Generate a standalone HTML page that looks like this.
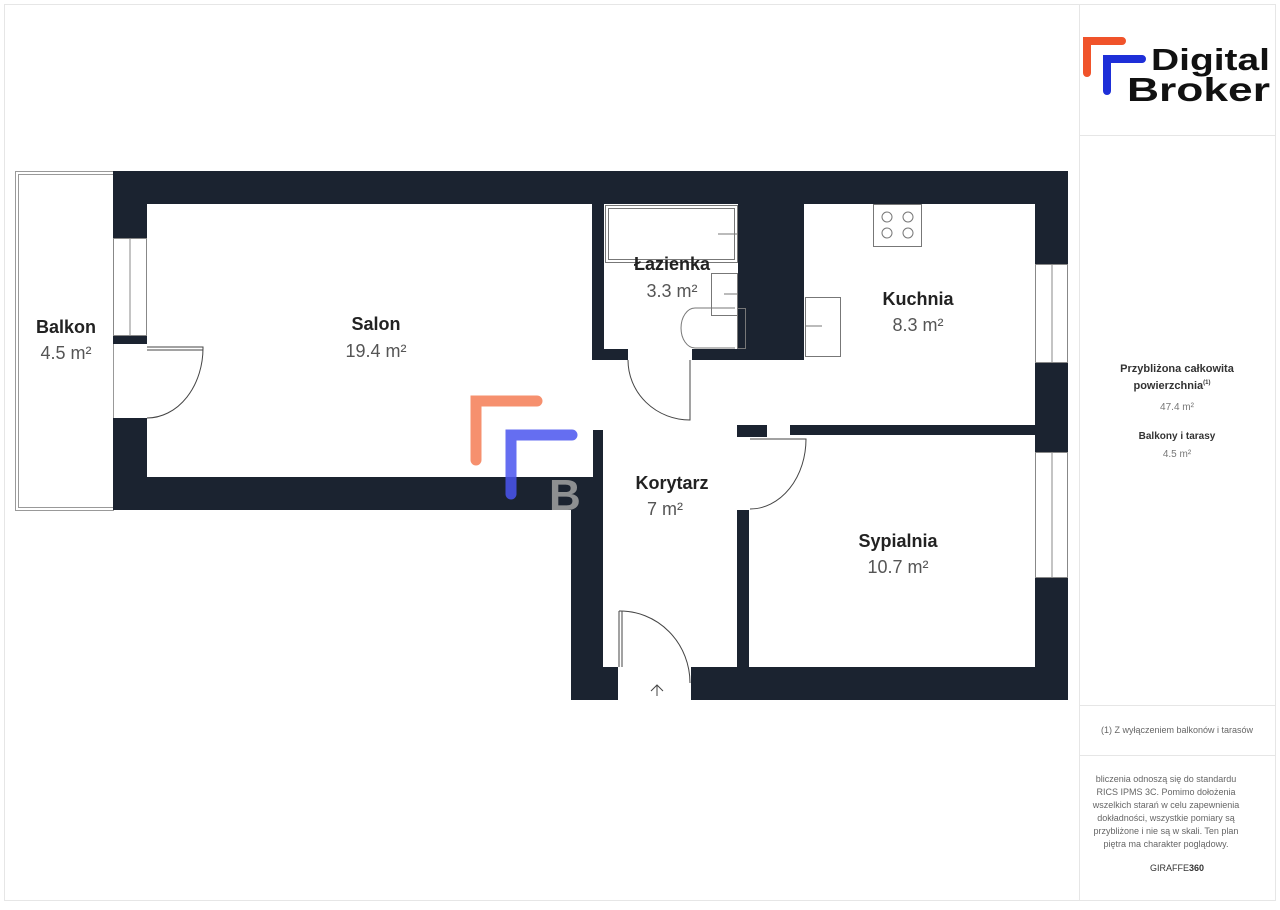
<!DOCTYPE html>
<html><head><meta charset="utf-8"><style>
body{margin:0;background:#fff;width:1280px;height:905px;overflow:hidden;font-family:"Liberation Sans",sans-serif}
</style></head><body>
<svg width="1280" height="905" viewBox="0 0 1280 905" xmlns="http://www.w3.org/2000/svg" font-family="Liberation Sans, sans-serif">
<rect x="4.5" y="4.5" width="1271" height="896" fill="none" stroke="#e6e6e6"/>
<line x1="1079.5" y1="4" x2="1079.5" y2="900" stroke="#e6e6e6"/>
<line x1="1079" y1="135.5" x2="1276" y2="135.5" stroke="#e6e6e6"/>
<line x1="1079" y1="705.5" x2="1276" y2="705.5" stroke="#e6e6e6"/>
<line x1="1079" y1="755.5" x2="1276" y2="755.5" stroke="#e6e6e6"/>
<path d="M1087 73 V41 H1122" stroke="#f0532a" stroke-width="8" fill="none" stroke-linecap="round"/>
<path d="M1107 91 V59 H1142" stroke="#1e2fd8" stroke-width="8" fill="none" stroke-linecap="round"/>
<text x="1151" y="70" font-size="31" font-weight="bold" fill="#111" textLength="119" lengthAdjust="spacingAndGlyphs">Digital</text>
<text x="1127" y="101" font-size="33" font-weight="bold" fill="#111" textLength="143" lengthAdjust="spacingAndGlyphs">Broker</text>
<g text-anchor="middle" fill="#333">
<text x="1177" y="372" font-size="11" font-weight="bold">Przybliżona całkowita</text>
<text x="1172" y="389" font-size="11" font-weight="bold">powierzchnia<tspan font-size="6" dy="-5">(1)</tspan></text>
<text x="1177" y="410" font-size="10" fill="#777">47.4 m²</text>
<text x="1177" y="439" font-size="10" font-weight="bold">Balkony i tarasy</text>
<text x="1177" y="457" font-size="10" fill="#777">4.5 m²</text>
<text x="1177" y="733" font-size="9" fill="#666">(1) Z wyłączeniem balkonów i tarasów</text>
<g font-size="9" fill="#666">
<text x="1166" y="782">bliczenia odnoszą się do standardu</text>
<text x="1166" y="795">RICS IPMS 3C. Pomimo dołożenia</text>
<text x="1166" y="808">wszelkich starań w celu zapewnienia</text>
<text x="1166" y="821">dokładności, wszystkie pomiary są</text>
<text x="1166" y="834">przybliżone i nie są w skali. Ten plan</text>
<text x="1166" y="847">piętra ma charakter poglądowy.</text>
</g>
<text x="1177" y="871" font-size="9" fill="#333">GIRAFFE<tspan font-weight="bold">360</tspan></text>
</g>
<rect x="15.5" y="171.5" width="98" height="339" fill="none" stroke="#999"/>
<rect x="18.5" y="174.5" width="95" height="333" fill="none" stroke="#999"/>
<g fill="#1b2330">
<rect x="113" y="171" width="955" height="33"/>
<rect x="113" y="171" width="34" height="67"/>
<rect x="113" y="335" width="34" height="9"/>
<rect x="113" y="418" width="34" height="92"/>
<rect x="113" y="477" width="490" height="33"/>
<rect x="593" y="430" width="10" height="80"/>
<rect x="571" y="477" width="32" height="223"/>
<rect x="571" y="667" width="47" height="33"/>
<rect x="592" y="204" width="12" height="156"/>
<rect x="592" y="349" width="36" height="11"/>
<rect x="692" y="349" width="112" height="11"/>
<rect x="738" y="204" width="66" height="156"/>
<rect x="1035" y="171" width="33" height="93"/>
<rect x="1035" y="363" width="33" height="89"/>
<rect x="1035" y="578" width="33" height="122"/>
<rect x="790" y="425" width="245" height="10"/>
<rect x="737" y="425" width="30" height="12"/>
<rect x="737" y="510" width="12" height="157"/>
<rect x="691" y="667" width="377" height="33"/>
</g>
<g fill="#fff" stroke="#888">
<rect x="113.5" y="238.5" width="33" height="97"/>
<line x1="130" y1="238" x2="130" y2="335"/>
<rect x="1035.5" y="264.5" width="32" height="98"/>
<line x1="1052" y1="264" x2="1052" y2="363"/>
<rect x="1035.5" y="452.5" width="32" height="125"/>
<line x1="1052" y1="452" x2="1052" y2="578"/>
</g>
<g fill="none" stroke="#777" stroke-width="1">
<rect x="605.5" y="205.5" width="132" height="57"/>
<rect x="608.5" y="208.5" width="126" height="51"/>
<line x1="718" y1="234" x2="737" y2="234"/>
<rect x="711.5" y="273.5" width="26" height="42"/>
<line x1="724" y1="294" x2="737" y2="294"/>
<path d="M735 308 H695 A14 20 0 0 0 695 348 H735"/>
<rect x="737.5" y="308.5" width="8" height="40"/>
<rect x="873.5" y="204.5" width="48" height="42"/>
<circle cx="887" cy="217" r="5"/><circle cx="908" cy="217" r="5"/>
<circle cx="887" cy="233" r="5"/><circle cx="908" cy="233" r="5"/>
<rect x="805.5" y="297.5" width="35" height="59"/>
<line x1="805" y1="326" x2="822" y2="326"/>
<path d="M147 347 H203 A56 70 0 0 1 147 418" stroke="#444"/>
<line x1="147" y1="350" x2="203" y2="350" stroke="#444"/>
<path d="M628 360 A62 60 0 0 0 690 420 V360" stroke="#444"/>
<path d="M750 439 H806 A56 70 0 0 1 750 509" stroke="#444"/>
<path d="M619 611 V667 M622 611 V667 M619 611 A70 72 0 0 1 690 683" stroke="#444"/>
<path d="M657 696 V685 M651 691 L657 685 L663 691" stroke="#444"/>
</g>
<path d="M476 460 V401 H537" stroke="#f58a66" stroke-width="11" fill="none" stroke-linecap="round" opacity=".95"/>
<path d="M511 494 V435 H572" stroke="#4a55ee" stroke-width="11" fill="none" stroke-linecap="round" opacity=".85"/>
<text x="549" y="510" font-size="44" font-weight="bold" fill="#aaa" opacity=".8">B</text>
<g text-anchor="middle">
<g font-size="18" font-weight="bold" fill="#222">
<text x="66" y="333">Balkon</text>
<text x="376" y="330">Salon</text>
<text x="672" y="270">Łazienka</text>
<text x="918" y="305">Kuchnia</text>
<text x="672" y="489">Korytarz</text>
<text x="898" y="547">Sypialnia</text>
</g>
<g font-size="18" fill="#555">
<text x="66" y="359">4.5 m²</text>
<text x="376" y="357">19.4 m²</text>
<text x="672" y="297">3.3 m²</text>
<text x="918" y="331">8.3 m²</text>
<text x="665" y="515">7 m²</text>
<text x="898" y="573">10.7 m²</text>
</g>
</g>
</svg>
</body></html>
